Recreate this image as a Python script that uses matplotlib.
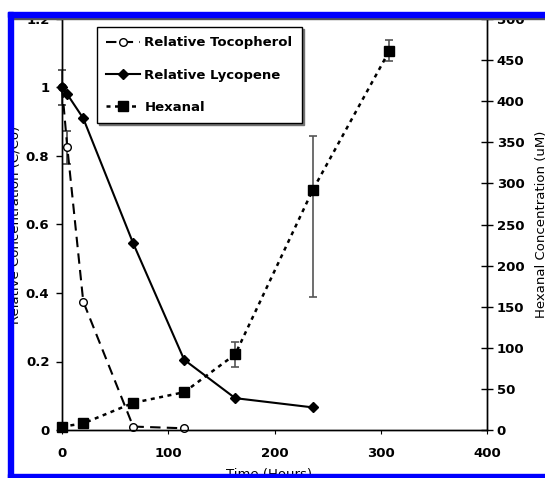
import numpy as np
import matplotlib.pyplot as plt
from matplotlib.lines import Line2D
from matplotlib.patches import Rectangle

plt.rcParams['font.family'] = 'DejaVu Sans'
plt.rcParams['font.weight'] = 'bold'

# values
time_toc = [0, 5, 20, 67, 115]
tocopherol = [1.0, 0.825, 0.375, 0.01, 0.005]
toc_err = [0.05, 0.048, 0, 0, 0]

time_lyc = [0, 5, 20, 67, 115, 163, 236]
lycopene = [1.0, 0.98, 0.91, 0.545, 0.205, 0.093, 0.066]

time_hex = [0, 20, 67, 115, 163, 236, 308]
hexanal = [4, 8, 33, 46, 92, 292, 461]
hex_err_lo = [0, 0, 0, 0, 15, 130, 12]
hex_err_hi = [0, 0, 0, 0, 15, 66, 14]

W, H = 545, 478
fig = plt.figure(figsize=(W / 100, H / 100), dpi=100)
ax = fig.add_axes([62 / W, (H - 430) / H, (487 - 62) / W, (430 - 19) / H])
ax2 = ax.twinx()

toc_dash = (5, 3)
hex_dash = (1.6, 1.8)

# tocopherol
ax.plot(time_toc, tocopherol, color='black', lw=1.5, dashes=toc_dash,
        marker='o', ms=5.5, mfc='white', mec='black', mew=1.0,
        label='Relative Tocopherol', zorder=3, clip_on=False)
m = np.array(toc_err) > 0
ax.errorbar(np.array(time_toc)[m], np.array(tocopherol)[m], yerr=np.array(toc_err)[m],
            fmt='none', ecolor='#444444', elinewidth=1.2, capsize=3, capthick=1.2,
            zorder=2, clip_on=False)

# lycopene
ax.plot(time_lyc, lycopene, color='black', lw=1.5, marker='D', ms=5.5,
        label='Relative Lycopene', zorder=4, clip_on=False)

# hexanal on right axis
ax2.plot(time_hex, hexanal, color='black', lw=1.8, dashes=hex_dash,
         marker='s', ms=7.5, mfc='black', mec='black', label='Hexanal', zorder=3,
         clip_on=False)
m = (np.array(hex_err_lo) + np.array(hex_err_hi)) > 0
ax2.errorbar(np.array(time_hex)[m], np.array(hexanal)[m],
             yerr=[np.array(hex_err_lo)[m], np.array(hex_err_hi)[m]],
             fmt='none', ecolor='#555555', elinewidth=1.2, capsize=3, capthick=1.2, zorder=2)

ax.set_xlim(0, 400)
ax.set_ylim(0, 1.2)
ax2.set_ylim(0, 500)
ax.set_xticks([0, 100, 200, 300, 400])
ax.set_yticks([0, 0.2, 0.4, 0.6, 0.8, 1.0, 1.2])
ax.set_yticklabels(['0', '0.2', '0.4', '0.6', '0.8', '1', '1.2'])
ax2.set_yticks(range(0, 501, 50))

for a in (ax, ax2):
    a.spines['top'].set_visible(False)
    for s in ('left', 'right', 'bottom'):
        a.spines[s].set_linewidth(1.0)
ax.tick_params(axis='y', direction='out', length=4, width=1, labelsize=9.5, pad=5)
ax.tick_params(axis='x', direction='out', length=3, width=0.8, labelsize=9.5, pad=9)
ax2.tick_params(axis='y', direction='inout', length=8, width=1, labelsize=9.5, pad=3)

ax.set_xlabel('Time (Hours)', fontsize=9.5)
ax.xaxis.set_label_coords(0.487, -0.092)
ax.xaxis.label.set_va('top')
ax.set_ylabel('Relative Concentration (C/Co)', fontsize=9.5)
ax.yaxis.set_label_coords(-0.095, 0.5)
ax2.set_ylabel('Hexanal Concentration (uM)', fontsize=9.5)
ax2.yaxis.set_label_coords(1.113, 0.5)

handles = [
    Line2D([], [], color='black', lw=1.5, dashes=toc_dash, marker='o', ms=5.5,
           mfc='white', mec='black'),
    Line2D([], [], color='black', lw=1.5, marker='D', ms=5.5),
    Line2D([], [], color='black', lw=1.8, dashes=hex_dash, marker='s', ms=7.5),
]
labels = ['Relative Tocopherol', 'Relative Lycopene', 'Hexanal']
leg = ax2.legend(handles, labels, loc='upper left', bbox_to_anchor=(0.082, 0.98),
                 borderaxespad=0, fontsize=9.5, numpoints=1, handlelength=2.6,
                 handletextpad=0.3, labelspacing=1.45, borderpad=0.7,
                 fancybox=False, framealpha=1, edgecolor='black',
                 shadow={'ox': 1.5, 'oy': -1.5, 'color': '0.45', 'alpha': 1})
leg.get_frame().set_linewidth(1.0)

# screenshot frame
fig.add_artist(Rectangle((13 / W, (H - 18.5) / H), 1, 0.8 / H, transform=fig.transFigure,
                         color='#555555', zorder=20))
fig.add_artist(Rectangle((8 / W, (H - 17) / H), 1, 5 / H, transform=fig.transFigure,
                         color='#0000ff', zorder=21))
fig.add_artist(Rectangle((8 / W, 0), 5 / W, (H - 12) / H, transform=fig.transFigure,
                         color='#0000ff', zorder=21))
fig.add_artist(Rectangle((8 / W, 0), 1, 4.5 / H, transform=fig.transFigure,
                         color='#0000ff', zorder=21))

fig.savefig('out.png', dpi=100)
